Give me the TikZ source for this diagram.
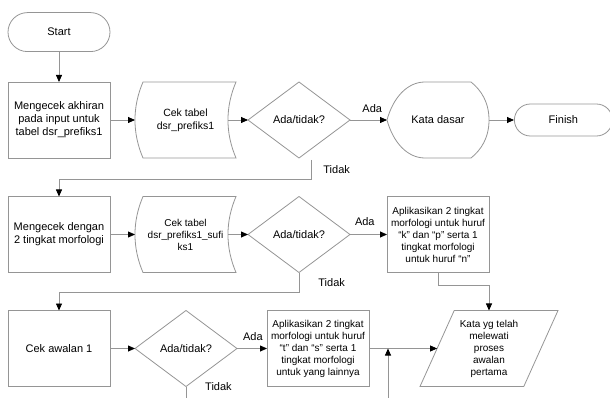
\documentclass[tikz,border=0pt]{standalone}
\usepackage{fontspec}
\setmainfont{Liberation Sans}
\usetikzlibrary{shapes.geometric, arrows.meta, positioning}
\definecolor{linegray}{HTML}{959595}
\newcommand\fsmain{\fontsize{11}{13}\selectfont}
\newcommand\fssmall{\fontsize{10}{12}\selectfont}

\begin{document}
\begin{tikzpicture}[x=1pt, y=-1pt,
    outline/.style={draw=linegray, line width=0.8pt},
    procbox/.style={outline, rectangle, minimum width=102pt, minimum height=76pt, inner sep=0pt, outer sep=0pt, align=center, font=\fsmain},
    decision/.style={outline, diamond, aspect=1.34, minimum width=102pt, minimum height=76pt, inner sep=0pt, outer sep=0pt, font=\fsmain},
    tabletext/.style={rectangle, minimum width=101pt, minimum height=76pt, inner sep=0pt, outer sep=0pt, align=center},
    flow/.style={draw=linegray, line width=0.8pt, -{Triangle[length=7pt, width=6pt, color=black]}},
    flowline/.style={draw=linegray, line width=0.8pt},
    lbl/.style={inner sep=0pt, font=\fsmain}]
    \useasboundingbox (0,0) rectangle (610,398);

    % row 1
    \node[procbox] (box1) at (59,120) {Mengecek akhiran\\pada input untuk\\tabel dsr\_prefiks1};
    \node[outline, rectangle, rounded corners=19.5pt, minimum width=102pt, minimum height=39pt, inner sep=0pt, font=\fsmain, above=30pt of box1] (start) {Start};
    \node[tabletext, font=\fontsize{10.5}{13}\selectfont, right=25pt of box1] (tab1) {Cek tabel\\dsr\_prefiks1};
    \node[decision, right=12pt of tab1] (dec1) {Ada/tidak?};
    \node[rectangle, minimum width=102pt, minimum height=76pt, inner sep=0pt, outer sep=0pt, font=\fsmain, right=37pt of dec1] (kata) {Kata dasar};
    \node[outline, rectangle, rounded corners=16pt, minimum width=98pt, minimum height=32pt, inner sep=0pt, font=\fsmain, right=25pt of kata] (finish) {Finish};

    % row 2
    \node[procbox] (box2) at (59,234.5) {Mengecek dengan\\2 tingkat morfologi};
    \node[tabletext, font=\fssmall, right=25pt of box2] (tab2) {Cek tabel\\dsr\_prefiks1\_sufi\\ks1};
    \node[decision, right=12pt of tab2] (dec2) {Ada/tidak?};
    \node[procbox, font=\fssmall, right=37pt of dec2] (apply1) {Aplikasikan 2 tingkat\\morfologi untuk huruf\\“k” dan “p” serta 1\\tingkat morfologi\\untuk huruf “n”};

    % row 3
    \node[procbox] (box3) at (59,348.5) {Cek awalan 1};
    \node[decision, right=25pt of box3] (dec3) {Ada/tidak?};
    \node[procbox, font=\fssmall, right=30pt of dec3] (apply2) {Aplikasikan 2 tingkat\\morfologi untuk huruf\\“t” dan “s” serta 1\\tingkat morfologi\\untuk yang lainnya};
    \node[outline, trapezium, trapezium left angle=63.4, trapezium right angle=116.6, trapezium stretches=true, minimum width=138pt, minimum height=76pt, inner sep=0pt, outer sep=0pt, align=center, font=\fssmall] (result) at (489,348.5) {Kata yg telah\\melewati\\proses\\awalan\\pertama};

    % stored data outlines
    \draw[outline] ([xshift=8pt]tab1.north west) -- (tab1.north east) .. controls +(-10.7pt,-25pt) and +(-10.7pt,25pt) .. (tab1.south east) -- ([xshift=8pt]tab1.south west) .. controls +(-10.7pt,25pt) and +(-10.7pt,-25pt) .. ([xshift=8pt]tab1.north west) -- cycle;
    \draw[outline] ([xshift=8pt]tab2.north west) -- (tab2.north east) .. controls +(-10.7pt,-25pt) and +(-10.7pt,25pt) .. (tab2.south east) -- ([xshift=8pt]tab2.south west) .. controls +(-10.7pt,25pt) and +(-10.7pt,-25pt) .. ([xshift=8pt]tab2.north west) -- cycle;
    % display outline
    \draw[outline] (kata.west) .. controls +(6pt,22pt) and +(-18pt,0pt) .. ([xshift=-13pt]kata.north) -- ([xshift=33pt]kata.north) .. controls +(10pt,-8pt) and +(0pt,18pt) .. (kata.east) .. controls +(0pt,-18pt) and +(10pt,8pt) .. ([xshift=33pt]kata.south) -- ([xshift=-13pt]kata.south) .. controls +(-18pt,0pt) and +(6pt,-22pt) .. (kata.west) -- cycle;

    % connectors
    \draw[flow] (start) -- (box1);
    \draw[flow] (box1) -- (tab1.west);
    \draw[flow] ([xshift=-8pt]tab1.east) -- (dec1.west);
    \draw[flow] (dec1.east) -- node[lbl, above=7pt, pos=0.6] (ada1) {Ada} (kata.west);
    \draw[flow] (kata.east) -- (finish.west);
    \draw[flow] ([xshift=12pt,yshift=-2pt]dec1.south) -- ++(0,-19pt) node[lbl, midway, right=12pt] (tidak1) {Tidak} -| (box2.north);

    \draw[flow] (box2) -- (tab2.west);
    \draw[flow] ([xshift=-8pt]tab2.east) -- (dec2.west);
    \draw[flow] (dec2.east) -- node[lbl, above=8pt, pos=0.4] (ada2) {Ada} (apply1.west);
    \draw[flow] (dec2.south) -- ++(0,-20pt) node[lbl, midway, right=19pt] (tidak2) {Tidak} -| (box3.north);
    \draw[flow] (apply1.south) -- ++(0,-13pt) -| (result.north);

    \draw[flow] (box3) -- (dec3.west);
    \draw[flow] (dec3.east) -- node[lbl, above=7pt, pos=0.53] (ada3) {Ada} (apply2.west);
    \draw[flow] (apply2.east) -- (result.left side);
    \draw[flowline] (dec3.south) -- ++(0,-15pt);
    \node[lbl, right=19pt] (tidak3) at (dec3.south) {Tidak};
    \coordinate (offpage) at (388,402);
    \coordinate (merge) at (388,348.5);
    \draw[flow] (offpage) -- (merge);
\end{tikzpicture}
\end{document}
